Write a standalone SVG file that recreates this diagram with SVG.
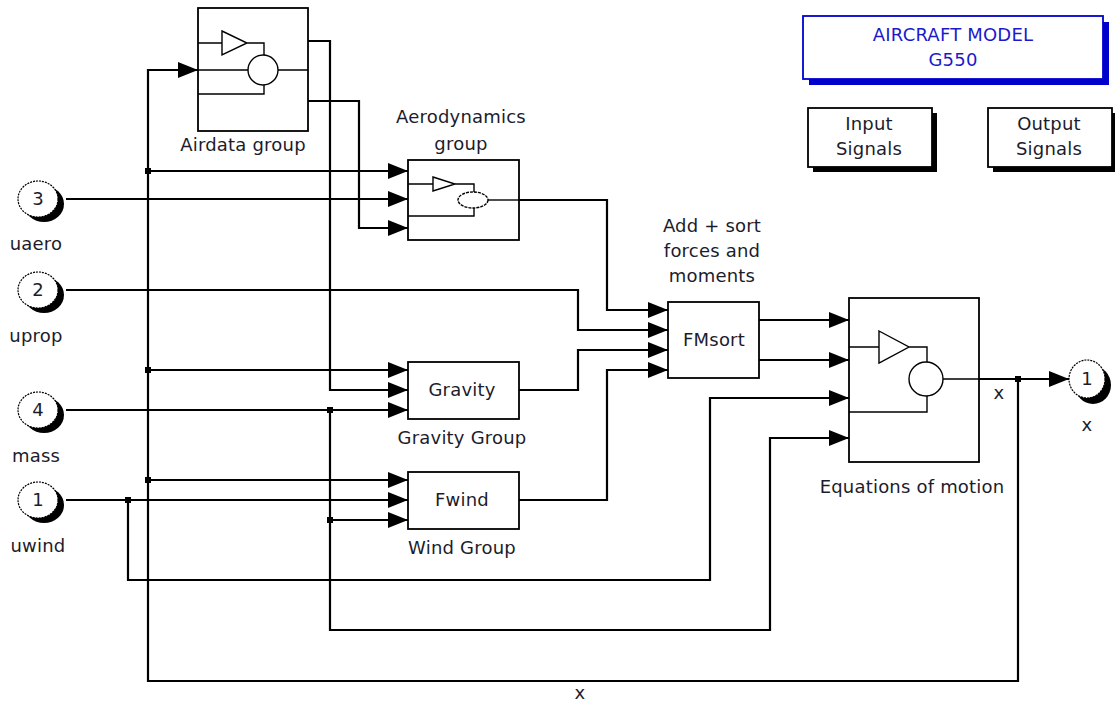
<svg xmlns="http://www.w3.org/2000/svg" width="1115" height="702" viewBox="0 0 1115 702">
<style>
text{font-family:"DejaVu Sans","Liberation Sans",sans-serif;font-size:18px;letter-spacing:0.2px;fill:#1c1c2c;text-anchor:middle}
.blk{fill:#fff;stroke:#000;stroke-width:1.8}
.in{fill:none;stroke:#000;stroke-width:1.4}
.w{fill:none;stroke:#000;stroke-width:2.2}
.pc{fill:#fff;stroke:#000;stroke-width:1.2;stroke-dasharray:2 1}
.sh{fill:#000}
.dot{fill:#000}
.blue{fill:#0000cc}
</style>
<defs>
<marker id="ah" markerUnits="userSpaceOnUse" markerWidth="21" markerHeight="18" refX="20" refY="8" orient="auto">
<path d="M0,0 L20,8 L0,16 z" fill="#000"/>
</marker>
</defs>

<g id="connectors">
<path class="w" d="M979,379 H1069" marker-end="url(#ah)"/>
<path class="w" d="M1018,379 V681 H148 V70 H198" marker-end="url(#ah)"/>
<path class="w" d="M148,171 H408" marker-end="url(#ah)"/>
<path class="w" d="M148,370 H408" marker-end="url(#ah)"/>
<path class="w" d="M148,480 H408" marker-end="url(#ah)"/>
<path class="w" d="M66,199 H408" marker-end="url(#ah)"/>
<path class="w" d="M308,41 H330 V390 H408" marker-end="url(#ah)"/>
<path class="w" d="M308,101 H359 V228 H408" marker-end="url(#ah)"/>
<path class="w" d="M519,200 H607 V310 H668" marker-end="url(#ah)"/>
<path class="w" d="M66,290 H578 V330 H668" marker-end="url(#ah)"/>
<path class="w" d="M519,390 H578 V350 H668" marker-end="url(#ah)"/>
<path class="w" d="M519,500 H607 V370 H668" marker-end="url(#ah)"/>
<path class="w" d="M759,320 H849" marker-end="url(#ah)"/>
<path class="w" d="M759,360 H849" marker-end="url(#ah)"/>
<path class="w" d="M66,410 H408" marker-end="url(#ah)"/>
<path class="w" d="M330,520 H408" marker-end="url(#ah)"/>
<path class="w" d="M330,410 V630 H770 V438 H849" marker-end="url(#ah)"/>
<path class="w" d="M66,500 H408" marker-end="url(#ah)"/>
<path class="w" d="M128,500 V580 H710 V398 H849" marker-end="url(#ah)"/>
<rect class="dot" x="145" y="168" width="6" height="6"/>
<rect class="dot" x="145" y="367" width="6" height="6"/>
<rect class="dot" x="145" y="477" width="6" height="6"/>
<rect class="dot" x="327" y="407" width="6" height="6"/>
<rect class="dot" x="327" y="517" width="6" height="6"/>
<rect class="dot" x="125" y="497" width="6" height="6"/>
<rect class="dot" x="1015" y="376" width="6" height="6"/>
<text x="580" y="699">x</text>
<text x="999" y="399">x</text>
</g>

<g id="airdata">
<rect class="blk" x="198" y="8" width="110" height="123"/>
<path class="in" d="M198,43 H222 M222,31 L247,43 L222,55 z M247,43 H264 V55 M198,70 H248 M278,70 H308 M198,94 H264 V85"/>
<circle class="in" cx="263" cy="70" r="15"/>
<text x="243" y="151">Airdata group</text>
</g>

<g id="aero">
<rect class="blk" x="408" y="160" width="111" height="80"/>
<path class="in" d="M408,184 H433 M433,177 L455,184 L433,191 z M455,184 H474 V192 M408,216 H474 V208" />
<ellipse class="in" cx="473" cy="200" rx="15" ry="8" stroke-dasharray="3 1"/>
<path class="in" d="M488,200 H519"/>
<text x="461" y="123">Aerodynamics</text>
<text x="461" y="150">group</text>
</g>

<g id="fmsort">
<rect class="blk" x="668" y="302" width="91" height="76"/>
<text x="714" y="346">FMsort</text>
<text x="712" y="232">Add + sort</text>
<text x="712" y="257">forces and</text>
<text x="712" y="282">moments</text>
</g>

<g id="gravity">
<rect class="blk" x="408" y="362" width="111" height="57"/>
<text x="462" y="396">Gravity</text>
<text x="462" y="444">Gravity Group</text>
</g>

<g id="wind">
<rect class="blk" x="408" y="472" width="111" height="57"/>
<text x="462" y="506">Fwind</text>
<text x="462" y="554">Wind Group</text>
</g>

<g id="eom">
<rect class="blk" x="849" y="298" width="130" height="164"/>
<path class="in" d="M849,347 H879 M879,331 L909,347 L879,363 z M909,347 H927 V362 M849,412 H927 V396 M943,379 H979"/>
<circle class="in" cx="926" cy="379" r="17"/>
<text x="912" y="493">Equations of motion</text>
</g>

<g id="in3">
<ellipse class="sh" cx="44" cy="204" rx="20" ry="18"/>
<ellipse class="pc" cx="38" cy="199" rx="20" ry="18"/>
<text x="38" y="205">3</text>
<text x="36" y="250">uaero</text>
</g>
<g id="in2">
<ellipse class="sh" cx="44" cy="295" rx="20" ry="18"/>
<ellipse class="pc" cx="38" cy="290" rx="20" ry="18"/>
<text x="38" y="296">2</text>
<text x="36" y="342">uprop</text>
</g>
<g id="in4">
<ellipse class="sh" cx="44" cy="415" rx="20" ry="18"/>
<ellipse class="pc" cx="38" cy="410" rx="20" ry="18"/>
<text x="38" y="416">4</text>
<text x="36" y="462">mass</text>
</g>
<g id="in1">
<ellipse class="sh" cx="44" cy="505" rx="20" ry="18"/>
<ellipse class="pc" cx="38" cy="500" rx="20" ry="18"/>
<text x="38" y="506">1</text>
<text x="38" y="552">uwind</text>
</g>

<g id="out1">
<ellipse class="sh" cx="1093" cy="385" rx="18" ry="19"/>
<ellipse class="pc" cx="1087" cy="379" rx="18" ry="19"/>
<text x="1087" y="385">1</text>
<text x="1087" y="431">x</text>
</g>

<g id="title">
<rect class="blue" x="809" y="22" width="300" height="63"/>
<rect x="803" y="16" width="300" height="63" fill="#fff" stroke="#0000cc" stroke-width="1.8"/>
<text x="953" y="41" style="fill:#1a1acc">AIRCRAFT MODEL</text>
<text x="953" y="66" style="fill:#1a1acc">G550</text>
</g>

<g id="inputSignals">
<rect x="813" y="113" width="124" height="59" fill="#000"/>
<rect class="blk" x="808" y="108" width="124" height="59"/>
<text x="869" y="130">Input</text>
<text x="869" y="155">Signals</text>
</g>

<g id="outputSignals">
<rect x="993" y="113" width="124" height="59" fill="#000"/>
<rect class="blk" x="988" y="108" width="124" height="59"/>
<text x="1049" y="130">Output</text>
<text x="1049" y="155">Signals</text>
</g>
</svg>
